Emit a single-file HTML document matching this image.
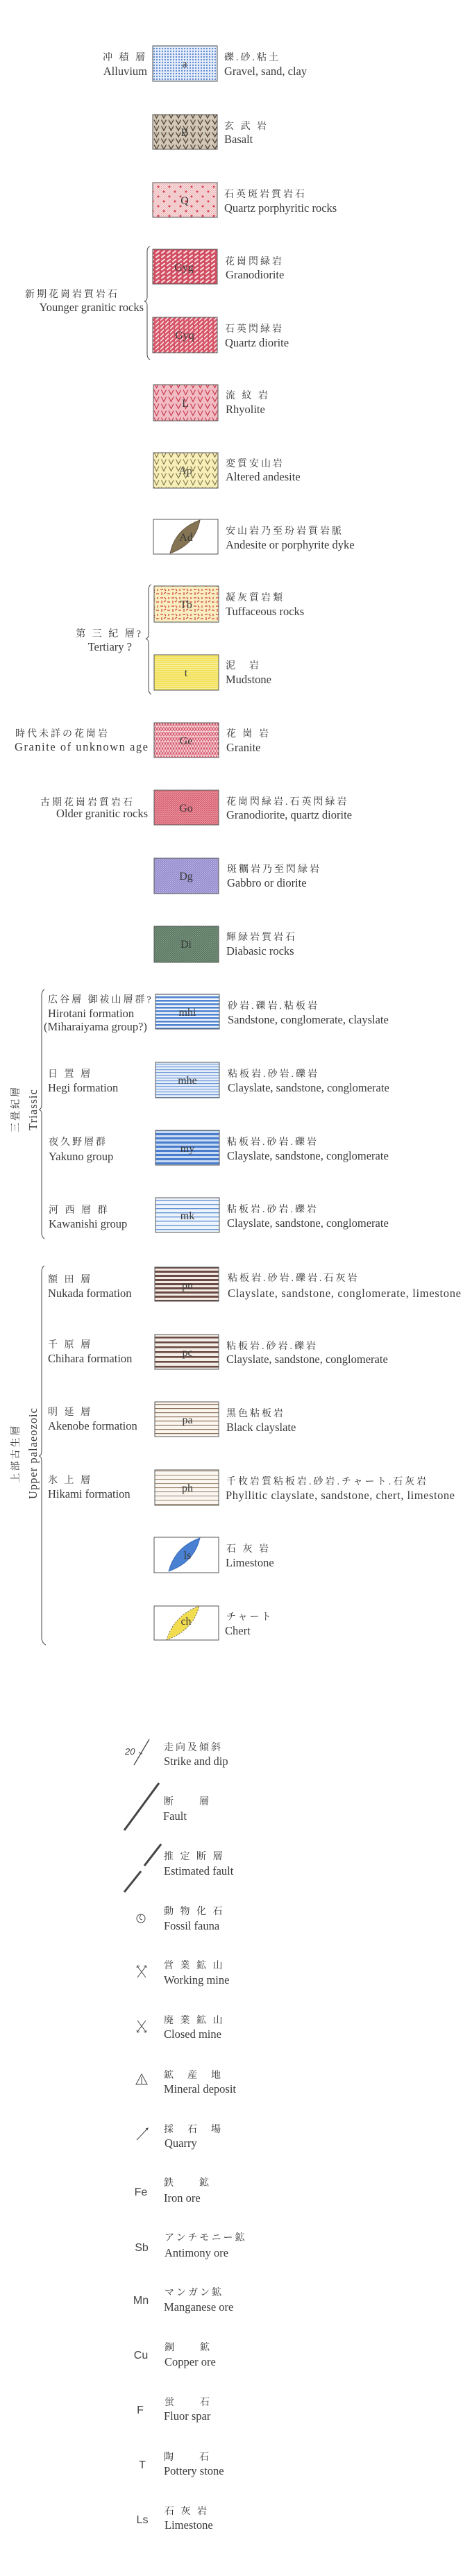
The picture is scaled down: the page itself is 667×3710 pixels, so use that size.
<!DOCTYPE html>
<html><head><meta charset="utf-8">
<style>
html,body{margin:0;padding:0;background:#fff;}
svg{display:block;}
.j{font-family:"Liberation Serif","Noto Serif CJK SC","Noto Sans CJK JP",serif;font-size:14px;fill:#333;letter-spacing:3px;}
.e{font-family:"Liberation Serif",serif;font-size:16.5px;fill:#3a3a3a;}
.l{font-family:"Liberation Serif",serif;font-size:16px;fill:#3a3a3a;text-anchor:middle;}
.s{font-family:"Liberation Sans",sans-serif;font-size:16px;fill:#444;text-anchor:middle;}
</style></head><body>
<svg width="667" height="3710" viewBox="0 0 667 3710" xmlns="http://www.w3.org/2000/svg">
<defs>
<pattern id="pa" width="4" height="4" patternUnits="userSpaceOnUse"><rect width="4" height="4" fill="#e2ebf8"/><circle cx="2" cy="2" r="1" fill="#3a6cc8"/></pattern>
<pattern id="pB" width="10.5" height="9" patternUnits="userSpaceOnUse"><rect width="10.5" height="9" fill="#d2c9b8"/><path d="M0,4.5H10.5M5,0V9" stroke="#b8ad9a" stroke-width="0.6"/><path d="M1.5,1.5L5,8L8.5,1.5" fill="none" stroke="#4e3a2c" stroke-width="1.2"/></pattern>
<pattern id="pQh" width="3" height="3" patternUnits="userSpaceOnUse"><rect width="3" height="3" fill="#f7dede"/><path d="M0,3L3,0M0,0L3,3" stroke="#e8a8ac" stroke-width="0.5"/></pattern>
<pattern id="pQd" width="16" height="14" patternUnits="userSpaceOnUse"><circle cx="4" cy="3" r="1.5" fill="#d84050"/><circle cx="12" cy="10" r="1.5" fill="#d84050"/></pattern>
<pattern id="pGyg" width="8" height="6" patternUnits="userSpaceOnUse"><rect width="8" height="6" fill="#d24e62"/><path d="M1,4.5L5,1.5" stroke="#fbe6e8" stroke-width="2" stroke-linecap="round"/></pattern>
<pattern id="pGyq" width="7" height="6" patternUnits="userSpaceOnUse"><rect width="7" height="6" fill="#d65468"/><path d="M0,5.5L5,0.5" stroke="#fbe6e8" stroke-width="1.6"/></pattern>
<pattern id="pL" width="10.5" height="10" patternUnits="userSpaceOnUse"><rect width="10.5" height="10" fill="#f2bcc4"/><path d="M1.5,1.5L5,8.5L8.5,1.5" fill="none" stroke="#c43448" stroke-width="1.1"/></pattern>
<pattern id="pAp" width="10.5" height="10" patternUnits="userSpaceOnUse"><rect width="10.5" height="10" fill="#f6efb8"/><path d="M1.5,1.5L5,8.5L8.5,1.5" fill="none" stroke="#7a6a44" stroke-width="1"/></pattern>
<pattern id="pTb" width="16" height="12" patternUnits="userSpaceOnUse"><rect width="16" height="12" fill="#f8eebe"/><path d="M1,3H5M9,1V5M12,3L15,1M3,8V11M7,9H11M13,8L15,11" stroke="#d03a40" stroke-width="1.2"/></pattern>
<pattern id="pt" width="4" height="3" patternUnits="userSpaceOnUse"><rect width="4" height="3" fill="#f2e25c"/><path d="M0,1.5H4" stroke="#faf3b0" stroke-width="0.8"/></pattern>
<pattern id="pGe" width="8" height="7" patternUnits="userSpaceOnUse"><rect width="8" height="7" fill="#d4586c"/><path d="M0,3.5H8M0,7L4,0M4,7L8,0M0,0L4,7M4,0L8,7" stroke="#fbe0e4" stroke-width="0.8"/></pattern>
<pattern id="pGo" width="3" height="3" patternUnits="userSpaceOnUse"><rect width="3" height="3" fill="#d65a6c"/><path d="M0,3L3,0" stroke="#f6c8cc" stroke-width="0.6"/><path d="M0,1.5H3" stroke="#e8909a" stroke-width="0.5"/></pattern>
<pattern id="pDg" width="3" height="3" patternUnits="userSpaceOnUse"><rect width="3" height="3" fill="#9088cc"/><path d="M0,3L3,0" stroke="#d8d2f0" stroke-width="0.6"/></pattern>
<pattern id="pDi" width="3" height="3" patternUnits="userSpaceOnUse"><rect width="3" height="3" fill="#587660"/><path d="M0,3L3,0" stroke="#9ab09e" stroke-width="0.6"/></pattern>
<pattern id="pmhi" width="4" height="5" patternUnits="userSpaceOnUse"><rect width="4" height="5" fill="#f4f8fe"/><rect width="4" height="2.6" fill="#4f84d0"/></pattern>
<pattern id="pmhe" width="4" height="4" patternUnits="userSpaceOnUse"><rect width="4" height="4" fill="#e6eefa"/><rect width="4" height="1.2" fill="#6e9ad8"/></pattern>
<pattern id="pmy" width="4" height="6" patternUnits="userSpaceOnUse"><rect width="4" height="6" fill="#c8dbf4"/><rect width="4" height="3" fill="#4a7ccc"/></pattern>
<pattern id="pmk" width="4" height="6" patternUnits="userSpaceOnUse"><rect width="4" height="6" fill="#eef4fc"/><rect width="4" height="1.4" fill="#6694d6"/></pattern>
<pattern id="ppn" width="4" height="6" patternUnits="userSpaceOnUse"><rect width="4" height="6" fill="#f2ebe6"/><rect width="4" height="3" fill="#6a4a42"/></pattern>
<pattern id="ppc" width="4" height="7" patternUnits="userSpaceOnUse"><rect width="4" height="7" fill="#f4eee8"/><rect width="4" height="2.6" fill="#6a4a42"/></pattern>
<pattern id="ppa" width="4" height="6" patternUnits="userSpaceOnUse"><rect width="4" height="6" fill="#faf6f0"/><rect width="4" height="1.2" fill="#8e7058"/></pattern>
<pattern id="pph" width="4" height="6" patternUnits="userSpaceOnUse"><rect width="4" height="6" fill="#faf7f2"/><rect width="4" height="1.1" fill="#a08a72"/></pattern>
</defs>

<g stroke="#555" stroke-width="1">
<rect x="220" y="66" width="93" height="51" fill="url(#pa)"/>
<rect x="220" y="165" width="93" height="50" fill="url(#pB)"/>
<rect x="220" y="263" width="93" height="50" fill="url(#pQh)"/>
<rect x="220" y="263" width="93" height="50" fill="url(#pQd)" stroke="none"/>
<rect x="220" y="359" width="93" height="50" fill="url(#pGyg)"/>
<rect x="220" y="457" width="93" height="51" fill="url(#pGyq)"/>
<rect x="221" y="554" width="93" height="52" fill="url(#pL)"/>
<rect x="221" y="652" width="93" height="51" fill="url(#pAp)"/>
<rect x="221" y="748" width="93" height="50" fill="#fff"/>
<rect x="222" y="844" width="93" height="52" fill="url(#pTb)"/>
<rect x="222" y="943" width="93" height="51" fill="url(#pt)"/>
<rect x="222" y="1041" width="93" height="50" fill="url(#pGe)"/>
<rect x="222" y="1138" width="93" height="50" fill="url(#pGo)"/>
<rect x="222" y="1236" width="93" height="51" fill="url(#pDg)"/>
<rect x="222" y="1334" width="93" height="52" fill="url(#pDi)"/>
<rect x="224" y="1432" width="92" height="50" fill="url(#pmhi)"/>
<rect x="224" y="1530" width="92" height="51" fill="url(#pmhe)"/>
<rect x="224" y="1628" width="92" height="50" fill="url(#pmy)"/>
<rect x="224" y="1725" width="92" height="50" fill="url(#pmk)"/>
<rect x="223" y="1825" width="92" height="49" fill="url(#ppn)"/>
<rect x="223" y="1922" width="92" height="50" fill="url(#ppc)"/>
<rect x="223" y="2019" width="92" height="50" fill="url(#ppa)"/>
<rect x="223" y="2117" width="92" height="51" fill="url(#pph)"/>
<rect x="222" y="2214" width="93" height="51" fill="#fff"/>
<rect x="222" y="2313" width="93" height="49" fill="#fff"/>
</g>
<path d="M245,797 Q252,762 288,749 Q282,784 245,797Z" fill="#857454" stroke="#5a4a34" stroke-width="0.8"/>
<path d="M243,2263 Q252,2228 288,2215 Q280,2250 243,2263Z" fill="#4a80d2" stroke="#3060b0" stroke-width="0.8"/>
<path d="M240,2362 Q250,2327 287,2313 Q278,2348 240,2362Z" fill="#f2dc50" stroke="#555" stroke-width="0.8" stroke-dasharray="2,2"/>

<g class="l">
<text x="266" y="97">a</text><text x="266" y="196">B</text><text x="266" y="294">Q</text>
<text x="265" y="390">Gyg</text><text x="266" y="488">Gyq</text><text x="267" y="586">L</text>
<text x="267" y="683">Ap</text><text x="268" y="779">Ad</text><text x="268" y="876">Tb</text>
<text x="268" y="974">t</text><text x="268" y="1072">Ge</text><text x="268" y="1169">Go</text>
<text x="268" y="1267">Dg</text><text x="268" y="1365">Di</text>
<text x="270" y="1463">mhi</text><text x="270" y="1561">mhe</text><text x="270" y="1659">my</text><text x="270" y="1756">mk</text>
<text x="270" y="1856">pn</text><text x="270" y="1953">pc</text><text x="270" y="2050">pa</text><text x="270" y="2148">ph</text>
<text x="270" y="2245">ls</text><text x="268" y="2340">ch</text>
</g>

<g>
<text class="j" x="323" y="87">礫.砂.粘土</text><text class="e" x="323" y="108">Gravel, sand, clay</text>
<text class="j" x="323" y="186">玄 武 岩</text><text class="e" x="323" y="206">Basalt</text>
<text class="j" x="323" y="284">石英斑岩質岩石</text><text class="e" x="323" y="305">Quartz porphyritic rocks</text>
<text class="j" x="324" y="381">花崗閃緑岩</text><text class="e" x="325" y="401">Granodiorite</text>
<text class="j" x="324" y="478">石英閃緑岩</text><text class="e" x="324" y="499">Quartz diorite</text>
<text class="j" x="325" y="574">流 紋 岩</text><text class="e" x="325" y="595">Rhyolite</text>
<text class="j" x="325" y="672">変質安山岩</text><text class="e" x="325" y="692">Altered andesite</text>
<text class="j" x="325" y="769">安山岩乃至玢岩質岩脈</text><text class="e" x="325" y="790">Andesite or porphyrite dyke</text>
<text class="j" x="325" y="865">凝灰質岩類</text><text class="e" x="325" y="886">Tuffaceous rocks</text>
<text class="j" x="325" y="963">泥　岩</text><text class="e" x="325" y="984">Mudstone</text>
<text class="j" x="326" y="1061">花 崗 岩</text><text class="e" x="326" y="1082">Granite</text>
<text class="j" x="326" y="1159">花崗閃緑岩.石英閃緑岩</text><text class="e" x="326" y="1179">Granodiorite, quartz diorite</text>
<text class="j" x="327" y="1256">斑糲岩乃至閃緑岩</text><text class="e" x="327" y="1277">Gabbro or diorite</text>
<text class="j" x="326" y="1354">輝緑岩質岩石</text><text class="e" x="326" y="1375">Diabasic rocks</text>
<text class="j" x="328" y="1453">砂岩.礫岩.粘板岩</text><text class="e" x="328" y="1474">Sandstone, conglomerate, clayslate</text>
<text class="j" x="328" y="1551">粘板岩.砂岩.礫岩</text><text class="e" x="328" y="1572">Clayslate, sandstone, conglomerate</text>
<text class="j" x="327" y="1649">粘板岩.砂岩.礫岩</text><text class="e" x="327" y="1670">Clayslate, sandstone, conglomerate</text>
<text class="j" x="327" y="1746">粘板岩.砂岩.礫岩</text><text class="e" x="327" y="1767">Clayslate, sandstone, conglomerate</text>
<text class="j" x="328" y="1845">粘板岩.砂岩.礫岩.石灰岩</text><text class="e" x="328" y="1868" textLength="336">Clayslate, sandstone, conglomerate, limestone</text>
<text class="j" x="326" y="1943">粘板岩.砂岩.礫岩</text><text class="e" x="326" y="1963">Clayslate, sandstone, conglomerate</text>
<text class="j" x="326" y="2040">黒色粘板岩</text><text class="e" x="326" y="2061">Black clayslate</text>
<text class="j" x="326" y="2138">千枚岩質粘板岩.砂岩.チャート.石灰岩</text><text class="e" x="325" y="2159" textLength="330">Phyllitic clayslate, sandstone, chert, limestone</text>
<text class="j" x="326" y="2235">石 灰 岩</text><text class="e" x="325" y="2256">Limestone</text>
<text class="j" x="326" y="2333">チャート</text><text class="e" x="324" y="2354">Chert</text>
</g>

<g text-anchor="end">
<text class="j" x="212" y="87">冲 積 層</text><text class="e" x="212" y="108">Alluvium</text>
<text class="j" x="172" y="428">新期花崗岩質岩石</text><text class="e" x="207" y="448">Younger granitic rocks</text>
<text class="j" x="206" y="917">第 三 紀 層?</text><text class="e" x="190" y="937">Tertiary ?</text>
<text class="j" x="158" y="1061">時代未詳の花崗岩</text><text class="e" x="213" y="1081" textLength="192" text-anchor="start" dx="-192">Granite of unknown age</text>
<text class="j" x="194" y="1160">古期花崗岩質岩石</text><text class="e" x="213" y="1177">Older granitic rocks</text>
</g>
<g>
<text class="j" x="69" y="1444">広谷層 御祓山層群?</text><text class="e" x="69" y="1465">Hirotani formation</text><text class="e" x="63" y="1484">(Miharaiyama group?)</text>
<text class="j" x="69" y="1551">日 置 層</text><text class="e" x="69" y="1572">Hegi formation</text>
<text class="j" x="70" y="1649">夜久野層群</text><text class="e" x="70" y="1671">Yakuno group</text>
<text class="j" x="70" y="1747">河 西 層 群</text><text class="e" x="70" y="1768">Kawanishi group</text>
<text class="j" x="69" y="1847">額 田 層</text><text class="e" x="69" y="1868">Nukada formation</text>
<text class="j" x="69" y="1941">千 原 層</text><text class="e" x="69" y="1962">Chihara formation</text>
<text class="j" x="69" y="2038">明 延 層</text><text class="e" x="69" y="2059">Akenobe formation</text>
<text class="j" x="69" y="2136">氷 上 層</text><text class="e" x="69" y="2157">Hikami formation</text>
</g>
<text class="j" transform="translate(27,1597) rotate(-90)" text-anchor="middle">三畳紀層</text>
<text class="e" transform="translate(53,1598) rotate(-90)" text-anchor="middle" letter-spacing="1">Triassic</text>
<text class="j" transform="translate(27,2093) rotate(-90)" text-anchor="middle">上部古生層</text>
<text class="e" transform="translate(53,2093) rotate(-90)" text-anchor="middle" letter-spacing="1">Upper palaeozoic</text>

<g fill="none" stroke="#555" stroke-width="1.1">
<path d="M216,355 Q212,356 212,362 L212,428 Q212,433 208,434 Q212,435 212,440 L212,510 Q212,516 216,518"/>
<path d="M218,842 Q214,843 214,850 L214,914 Q214,919 210,920 Q214,921 214,926 L214,992 Q214,998 218,1000"/>
<path d="M64,1425 Q60,1427 60,1434 L60,1592 Q60,1597 56,1598 Q60,1599 60,1604 L60,1775 Q60,1782 64,1784"/>
<path d="M64,1823 Q60,1825 60,1832 L60,2091 Q60,2096 56,2097 Q60,2098 60,2103 L60,2358 Q60,2366 66,2369"/>
</g>

<g stroke="#444" fill="none">
<path d="M215,2505 L193,2542" stroke-width="1.3"/>
<path d="M200,2523 Q203,2526 205,2526" stroke-width="1"/>
<path d="M229,2568 L179,2636" stroke-width="3"/>
<path d="M232,2656 L208,2687 M203,2695 L179,2725" stroke-width="3"/>
<circle cx="203" cy="2763" r="6" stroke-width="1"/>
<path d="M203,2758 Q199,2764 205,2765" stroke-width="1"/>
<path d="M198,2832 L210,2848 M210,2832 L198,2848" stroke-width="1"/>
<path d="M197,2834 L198,2831 L201,2832 M211,2834 L210,2831 L207,2832" stroke-width="1"/>
<path d="M198,2910 L210,2926 M210,2910 L198,2926" stroke-width="1"/>
<path d="M197,2924 L198,2927 L201,2926 M211,2924 L210,2927 L207,2926" stroke-width="1"/>
<path d="M204,2987 L212,3002 L196,3002 Z M204,2991 V3001" stroke-width="1"/>
<path d="M197,3082 L213,3065 M210,3066 L213,3065 L212,3068" stroke-width="1"/>
</g>
<text x="180" y="2527" font-family="Liberation Sans,sans-serif" font-style="italic" font-size="13" fill="#444">20</text>

<g>
<text class="j" x="236" y="2521">走向及傾斜</text><text class="e" x="236" y="2542">Strike and dip</text>
<text class="j" x="236" y="2599">断　　層</text><text class="e" x="235" y="2621">Fault</text>
<text class="j" x="236" y="2678">推 定 断 層</text><text class="e" x="236" y="2700">Estimated fault</text>
<text class="j" x="236" y="2757">動 物 化 石</text><text class="e" x="236" y="2779">Fossil fauna</text>
<text class="j" x="236" y="2835">営 業 鉱 山</text><text class="e" x="236" y="2857">Working mine</text>
<text class="j" x="236" y="2914">廃 業 鉱 山</text><text class="e" x="236" y="2935">Closed mine</text>
<text class="j" x="236" y="2993">鉱　産　地</text><text class="e" x="236" y="3014">Mineral deposit</text>
<text class="j" x="236" y="3071">採　石　場</text><text class="e" x="237" y="3092">Quarry</text>
<text class="j" x="236" y="3148">鉄　　鉱</text><text class="e" x="236" y="3171">Iron ore</text>
<text class="j" x="237" y="3227">アンチモニー鉱</text><text class="e" x="237" y="3250">Antimony ore</text>
<text class="j" x="237" y="3306">マンガン鉱</text><text class="e" x="236" y="3328">Manganese ore</text>
<text class="j" x="237" y="3385">銅　　鉱</text><text class="e" x="237" y="3407">Copper ore</text>
<text class="j" x="237" y="3464">蛍　　石</text><text class="e" x="236" y="3485">Fluor spar</text>
<text class="j" x="236" y="3543">陶　　石</text><text class="e" x="236" y="3564">Pottery stone</text>
<text class="j" x="237" y="3621">石 灰 岩</text><text class="e" x="237" y="3642">Limestone</text>
</g>
<g class="s">
<text x="203" y="3162">Fe</text>
<text x="204" y="3242">Sb</text>
<text x="203" y="3318">Mn</text>
<text x="203" y="3397">Cu</text>
<text x="202" y="3476">F</text>
<text x="205" y="3555">T</text>
<text x="205" y="3634">Ls</text>
</g>
</svg>
</body></html>
